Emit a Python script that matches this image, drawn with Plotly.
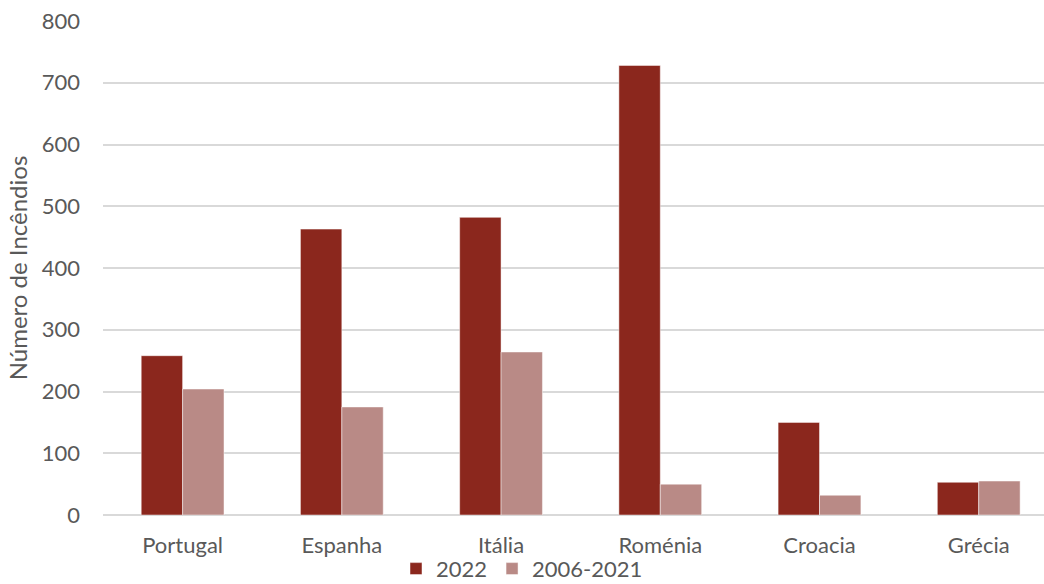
import plotly.graph_objects as go

categories = ["Portugal", "Espanha", "Itália", "Roménia", "Croacia", "Grécia"]
values_2022 = [258, 463, 482, 728, 150, 53]
values_2006_2021 = [204, 175, 264, 50, 32, 55]
y_ticks = [0, 100, 200, 300, 400, 500, 600, 700, 800]

FONT = "Lato, Calibri, Carlito, sans-serif"
TXT = "#595959"
FS = 22

fig = go.Figure()
fig.add_trace(go.Bar(
    x=categories, y=values_2022, name="2022",
    marker=dict(color="#8B271D", line=dict(color="rgba(255,255,255,0.6)", width=0.8)),
))
fig.add_trace(go.Bar(
    x=categories, y=values_2006_2021, name="2006-2021",
    marker=dict(color="#B98A86", line=dict(color="rgba(255,255,255,0.6)", width=0.8)),
))

fig.update_layout(
    width=1044, height=584,
    margin=dict(l=103, r=0, t=21, b=69, autoexpand=False),
    paper_bgcolor="white", plot_bgcolor="white",
    barmode="group", bargap=0.48, bargroupgap=0,
    font=dict(family=FONT, size=FS, color=TXT),
    showlegend=True,
    legend=dict(
        orientation="h", xref="container", x=0.5, xanchor="center",
        yref="container", y=0.026, yanchor="middle",
        font=dict(family=FONT, size=FS, color=TXT),
        itemwidth=30, tracegroupgap=0, bgcolor="rgba(0,0,0,0)",
    ),
    xaxis=dict(
        range=[-0.5, 5.41], showgrid=False, showline=False, zeroline=False,
        ticks="", automargin=False, ticklabelstandoff=15,
        tickfont=dict(family=FONT, size=FS, color=TXT),
    ),
    yaxis=dict(
        range=[0, 800], tickvals=y_ticks, ticktext=[str(v) for v in y_ticks],
        showgrid=True, gridcolor="#D9D9D9", gridwidth=1.5,
        zeroline=True, zerolinecolor="#D9D9D9", zerolinewidth=1.5,
        showline=False, ticks="", ticklabelstandoff=22, automargin=False,
        tickfont=dict(family=FONT, size=FS, color=TXT),
        title=dict(text="Número de Incêndios", font=dict(family=FONT, size=24, color=TXT), standoff=7),
    ),
)

fig.write_html("out.html", config={"displayModeBar": False},
               post_script="document.body.style.margin='0';")
